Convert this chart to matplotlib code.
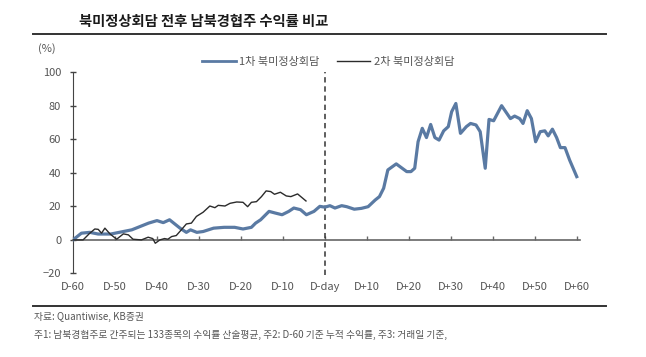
import numpy as np
import matplotlib.pyplot as plt
from matplotlib.lines import Line2D

plt.rcParams['font.family'] = ['Noto Sans CJK KR', 'DejaVu Sans']

# 1st summit: (trading day relative to summit, cumulative return %)
days1 = [-60, -58, -56, -54, -51, -48, -46, -44, -42, -40, -38.5, -37, -36, -34.5, -33, -32, -30.5,
         -29, -26.5, -24, -21.5, -19.5, -17.5, -16.5, -15.3, -13.3, -11.8, -10.2, -8.6, -7.4, -5.8,
         -4.4, -2.6, -1.2, 0, 1.2, 2.4, 4, 5.2, 7, 8.7, 10.3, 12, 13, 14, 15, 17, 19.5, 20.5, 21.4,
         22.2, 23.2, 24.2, 25.2, 26.2, 27.2, 28.3, 29.4, 30.2, 31.2, 32.3, 33.7, 34.7, 36, 37, 38.2,
         39.1, 40.2, 42.1, 43.3, 44.2, 45.2, 46.4, 47.2, 48.2, 49.2, 50.2, 51.3, 52.4, 53.2, 54.2,
         55.2, 56.1, 57.2, 58.3, 60]
ret1 = [0, 4, 4.5, 3.5, 3.5, 5, 6, 8, 10, 11.5, 10.3, 12, 10, 7, 4.5, 6, 4.5,
        5, 7, 7.5, 7.5, 6.5, 7.5, 10, 12, 17, 16, 15, 17, 19, 18,
        15, 17, 20, 19.5, 20.4, 19, 20.4, 19.8, 18.3, 18.8, 19.8, 23.8, 25.8, 30.8, 41.7, 45.3, 40.7, 40.7, 42.7,
        58.5, 66.5, 61, 68.8, 61, 59.5, 65, 67.5, 76.4, 81.3, 63.5, 67.5, 69.4, 68.5, 64.5, 42.7,
        71.8, 71, 80, 75.6, 72.3, 73.8, 72.3, 69.4, 77, 72.3, 58.5, 64.5, 65, 62, 66,
        61, 55, 55, 47.6, 37.7]

# 2nd summit
days2 = [-60, -57.6, -56, -54.8, -54, -53.2, -52.4, -51.2, -49.6, -48, -46.8, -45.7, -43.7, -42.1,
         -41, -40.4, -39.3, -38.2, -37.4, -36.5, -35.4, -34.2, -33, -31.8, -30.6, -29, -27.4, -26.2,
         -25.4, -23.8, -22.6, -21, -19.5, -18.4, -17.5, -16.3, -15.1, -14, -12.9, -12, -10.6, -9.2,
         -8.1, -6.5, -4.5]
ret2 = [0, 0, 4, 6.5, 6.3, 4, 7, 3.6, 0.4, 3.6, 3, 0.4, 0, 1.6,
        0.8, -2, 0, 0.8, 0.4, 2, 2.6, 6, 9.5, 10, 14, 16.5, 20.2, 19.2,
        20.6, 20.2, 21.8, 22.6, 22.4, 19.8, 22.4, 22.8, 25.8, 29.2, 28.8, 27.2, 28.4, 26.2,
        25.8, 27.4, 23.2]

xticks = list(range(-60, 61, 10))
xlabels = ['D-60', 'D-50', 'D-40', 'D-30', 'D-20', 'D-10', 'D-day',
           'D+10', 'D+20', 'D+30', 'D+40', 'D+50', 'D+60']

blue = '#5a7aa3'
grey = '#555555'

fig = plt.figure(figsize=(6.46, 3.57), dpi=100)
ax = fig.add_axes([0.113, 0.234, 0.785, 0.564])

ax.plot(days1, ret1, color=blue, lw=2.3, solid_joinstyle='round', zorder=3)
ax.plot(days2, ret2, color='#2b2b2b', lw=1.0, zorder=4)
ax.axvline(0, color='#333333', lw=1.1, ls=(0, (3.5, 2.5)), ymin=-0.01, ymax=1.0,
           clip_on=False, zorder=2)

ax.set_xlim(-60, 60.8)
ax.set_ylim(-20, 100)
ax.set_yticks(range(-20, 101, 20))
ax.tick_params(axis='y', direction='inout', length=5, width=1, color='#444444',
               labelsize=8, labelcolor=grey, pad=6)

for s in ['top', 'right']:
    ax.spines[s].set_visible(False)
ax.spines['left'].set_color('#444444')
ax.spines['bottom'].set_position(('data', 0))
ax.spines['bottom'].set_color('#666666')
ax.spines['bottom'].set_linewidth(1.2)
ax.set_xticks(xticks)
ax.tick_params(axis='x', direction='in', length=3, width=1, color='#666666',
               labelbottom=False)

sec = ax.secondary_xaxis('bottom')
sec.spines['bottom'].set_visible(False)
sec.set_xticks(xticks)
sec.set_xticklabels(xlabels)
sec.tick_params(length=0, labelsize=8, labelcolor=grey, pad=6)

ax.text(-0.07, 1.1, '(%)', transform=ax.transAxes, fontsize=8, color=grey, ha='left')

handles = [Line2D([], [], color=blue, lw=2.0), Line2D([], [], color='#2b2b2b', lw=1.0)]
fig.legend(handles, ['1차 북미정상회담', '2차 북미정상회담'], loc='center',
           bbox_to_anchor=(0.508, 0.826), ncol=2, frameon=False, fontsize=8,
           handlelength=3.0, columnspacing=1.6, handletextpad=0.3, labelcolor=grey)

fig.text(0.122, 0.938, '북미정상회담 전후 남북경협주 수익률 비교', fontsize=10.3,
         fontweight='bold', color='#1a1a1a', va='center')
fig.add_artist(Line2D([0.051, 0.938], [0.905, 0.905], color='#333333', lw=1.4))
fig.add_artist(Line2D([0.051, 0.938], [0.143, 0.143], color='#333333', lw=1.4))
fig.text(0.052, 0.112, '자료: Quantiwise, KB증권', fontsize=7, color=grey, va='center')
fig.text(0.052, 0.062, '주1: 남북경협주로 간주되는 133종목의 수익률 산술평균, 주2: D-60 기준 누적 수익률, 주3: 거래일 기준,',
         fontsize=7, color=grey, va='center')

fig.savefig('out.png', dpi=100)
